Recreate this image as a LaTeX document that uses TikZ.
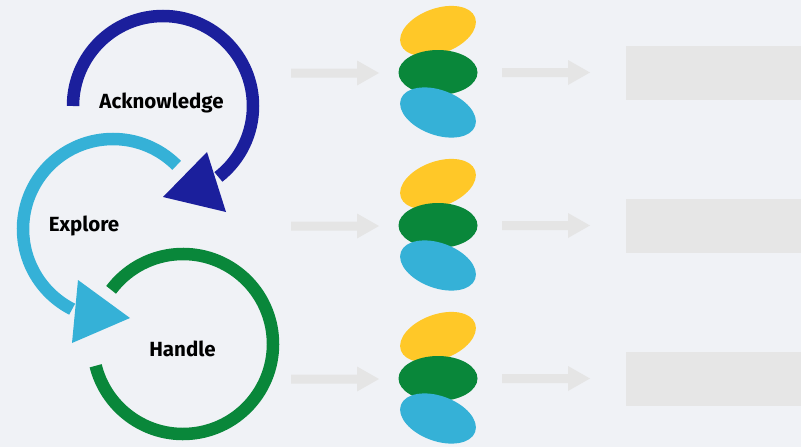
\documentclass[tikz,border=0pt]{standalone}
\usepackage{fontspec}
\setmainfont{Fira Sans}
\usetikzlibrary{shapes.geometric}
\definecolor{bg}{HTML}{F0F2F6}
\definecolor{dkblue}{HTML}{1B1F9C}
\definecolor{ltblue}{HTML}{35B1D7}
\definecolor{dgreen}{HTML}{09873A}
\definecolor{yel}{HTML}{FFC828}
\definecolor{garrow}{HTML}{E5E5E5}
\definecolor{grect}{HTML}{E6E6E6}
\tikzset{
  ring/.style={line width=12.5pt, line cap=butt},
  lbl/.style={font=\fontsize{20.5}{24}\selectfont\bfseries, text=black, anchor=base, inner sep=0},
  egg/.style={ellipse, draw=none, inner sep=0, minimum width=79pt, minimum height=45pt},
  flatarrow/.style={fill=garrow, draw=none},
  placeholder/.style={fill=grect, draw=none}
}
\begin{document}
\begin{tikzpicture}[x=1pt,y=-1pt]
\useasboundingbox (0,0) rectangle (801,447);
\fill[bg] (0,0) rectangle (801,447);

% circular arrows
\draw[ring, dkblue] (163,106) ++(-180:90) arc[start angle=-180, end angle=52, radius=90];
\fill[dkblue] (163,197) -- (207,152) -- (226,212) -- cycle;

\draw[ring, ltblue] (113,229) ++(-45:90) arc[start angle=-45, end angle=-243, radius=90];
\fill[ltblue] (78,280) -- (130,318) -- (72,343) -- cycle;

\draw[ring, dgreen] (183,344) ++(-143:90) arc[start angle=-143, end angle=166, radius=90];

\node[lbl] (ack) at (161.5,108) {Acknowledge};
\node[lbl] (exp) at (84,231) {Explore};
\node[lbl] (han) at (182.5,356) {Handle};

% rows
\foreach \i/\y in {1/72.5, 2/225.5, 3/378.5}{
  \fill[flatarrow] (291,\y-4) -- (357,\y-4) -- (357,\y-12) -- (379,\y+0.5) -- (357,\y+13) -- (357,\y+5) -- (291,\y+5) -- cycle;
  \node[egg, fill=yel, rotate=20] (y\i) at (438,\y-41.5) {};
  \node[egg, fill=dgreen] (g\i) at (438,\y) {};
  \node[egg, fill=ltblue, rotate=-20] (b\i) at (438,\y+40) {};
  \fill[flatarrow] (502,\y-4.5) -- (568,\y-4.5) -- (568,\y-12.5) -- (590,\y) -- (568,\y+12.5) -- (568,\y+4.5) -- (502,\y+4.5) -- cycle;
  \fill[placeholder] (626,\y-27) rectangle (801,\y+27);
}
\end{tikzpicture}
\end{document}
